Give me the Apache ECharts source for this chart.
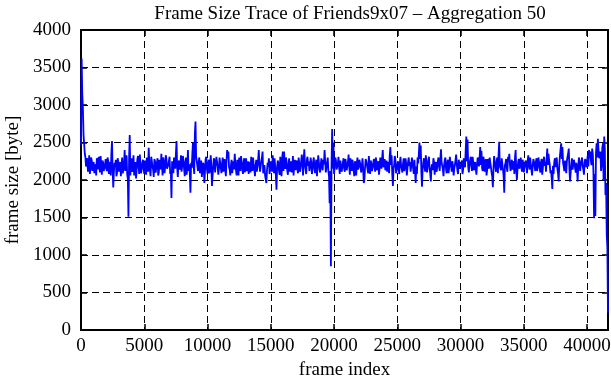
<!DOCTYPE html>
<html>
<head>
<meta charset="utf-8">
<script src="https://cdn.jsdelivr.net/npm/echarts@6/dist/echarts.min.js"></script>
<style>
  html, body { margin: 0; padding: 0; background: #fff; }
  #main { width: 611px; height: 380px; }
</style>
</head>
<body>
<div id="main"></div>
<script>
// aggregated frame sizes, one value per 50-frame window (one row = 1000 frames)
var firstFrame = 0;
var frameStep = 50;
var frameSize = [
  2470, 3620, 3150, 2960, 2600, 2480, 2350, 2300, 2180, 2240, 2290, 2110, 2200, 2330, 2080, 2150, 2300, 2260, 2120, 2190,
  2240, 2090, 2170, 2210, 2060, 2290, 2230, 2140, 2310, 2180, 2100, 2320, 2190, 2070, 2260, 2230, 2120, 2160, 2210, 2280,
  2150, 2120, 2300, 2250, 2080, 2190, 2240, 2060, 2350, 2520, 2140, 1900, 2110, 2230, 2180, 2270, 2050, 2100, 2290, 2230,
  2110, 2180, 2240, 2050, 2160, 2300, 2090, 2140, 2210, 2400, 2120, 2250, 2330, 2080, 2020, 1510, 2280, 2600, 2060, 2200,
  2290, 2110, 2170, 2330, 2060, 2160, 2240, 2020, 2130, 2270, 2320, 2190, 2080, 2340, 2200, 2090, 2150, 2230, 2270, 2150,
  2080, 2260, 2190, 2070, 2300, 2200, 2110, 2430, 2230, 2120, 2050, 2310, 2250, 2180, 2140, 2040, 2280, 2250, 2100, 2160,
  2230, 2290, 2060, 2100, 2270, 2210, 2140, 2350, 2190, 2060, 2300, 2240, 2090, 2170, 2330, 2280, 2150, 2130, 2200, 2220,
  2310, 2080, 2120, 1760, 2250, 2190, 2090, 2300, 2220, 2150, 2350, 2520, 2170, 2040, 2200, 2260, 2140, 2180, 2330, 2110,
  2190, 2320, 2260, 2140, 2050, 2230, 2300, 2070, 2160, 2400, 2120, 2210, 2090, 1830, 2230, 2160, 2350, 2500, 2180, 2080,
  2620, 2780, 2310, 2250, 2180, 2120, 2240, 2300, 2090, 2170, 2260, 2040, 2130, 2230, 2200, 1960, 2120, 2280, 2310, 2150,
  2080, 2210, 2270, 2090, 2150, 2330, 2200, 1920, 2050, 2180, 2290, 2260, 2100, 2120, 2310, 2240, 2190, 2070, 2140, 2300,
  2230, 2160, 2090, 2220, 2300, 2110, 2180, 2280, 2130, 2050, 2250, 2400, 2290, 2380, 2170, 2140, 2060, 2200, 2270, 2090,
  2180, 2250, 2140, 2350, 2220, 2130, 2060, 2270, 2190, 2060, 2300, 2190, 2120, 2320, 2240, 2150, 2080, 2230, 2290, 2100,
  2210, 2290, 2120, 2170, 2250, 2080, 2190, 2240, 2100, 2310, 2230, 2120, 2300, 2200, 2140, 2050, 2190, 2270, 2110, 2180,
  2270, 2400, 2210, 2110, 2180, 2250, 2300, 2380, 2090, 2150, 2200, 2060, 2010, 1960, 2130, 2230, 2200, 2290, 2080, 2140,
  2250, 2200, 2110, 2330, 2240, 2090, 2290, 2170, 2060, 1870, 2180, 2260, 2230, 2120, 2070, 2310, 2170, 2050, 2290, 2380,
  2120, 2380, 2210, 2150, 2300, 2240, 2130, 2070, 2200, 2290, 2110, 2180, 2250, 2100, 2170, 2320, 2060, 2200, 2270, 2130,
  2220, 2260, 2150, 2090, 2300, 2230, 2110, 2170, 2250, 2340, 2190, 2060, 2280, 2410, 2200, 2140, 2080, 2270, 2310, 2190,
  2250, 2120, 2180, 2300, 2230, 2080, 2140, 2250, 2300, 2160, 2090, 2220, 2270, 2050, 2190, 2330, 2240, 2140, 2100, 2210,
  2290, 2180, 2130, 2270, 2210, 2400, 2250, 2100, 2170, 2230, 2300, 2120, 2050, 1690, 2120, 850, 2200, 2680, 2150, 2500,
  2080, 2190, 2300, 2260, 2140, 2130, 2220, 2310, 2170, 2080, 2260, 2240, 2110, 2170, 2230, 2290, 2150, 2110, 2280, 2220,
  2130, 2150, 2240, 2340, 2180, 2070, 2290, 2200, 2120, 2270, 2210, 2120, 2050, 2250, 2190, 2060, 2230, 2300, 2140, 2180,
  2270, 2230, 2160, 2100, 2200, 2290, 2150, 1960, 2010, 2170, 2280, 2250, 2200, 2140, 2090, 2320, 2190, 2080, 2260, 2210,
  2120, 2160, 2230, 2280, 2180, 2110, 2300, 2240, 2130, 2190, 2250, 2070, 2160, 2300, 2220, 2150, 2290, 2400, 2170, 2220,
  2280, 2130, 2190, 2260, 2110, 2180, 2240, 2090, 2330, 2440, 2200, 2330, 2080, 1920, 2150, 2200, 2320, 2270, 2090, 2140,
  2200, 2250, 2140, 2080, 2230, 2310, 2190, 2170, 2100, 2220, 2290, 2120, 2180, 2290, 2220, 2060, 2150, 2240, 2300, 2190,
  2240, 2110, 2190, 2300, 2230, 2150, 2080, 2270, 2120, 1960, 2180, 2080, 2300, 2220, 2350, 2500, 2280, 2460, 2100, 1910,
  2140, 2230, 2290, 2180, 2110, 2330, 2240, 2100, 2190, 2260, 2310, 2150, 2090, 1980, 2170, 2210, 2130, 2290, 2240, 2070,
  2180, 2240, 2110, 2160, 2250, 2300, 2190, 2120, 2280, 2410, 2230, 2190, 2140, 2050, 2200, 2270, 2300, 2140, 2090, 2230,
  2270, 2090, 2170, 2310, 2240, 2180, 2110, 2250, 2190, 2060, 2150, 2200, 2270, 2340, 2200, 2130, 2080, 2270, 2220, 2150,
  2190, 2220, 2260, 2080, 2140, 2290, 2230, 2170, 2380, 2580, 2250, 2540, 2180, 2100, 2200, 2260, 2310, 2190, 2120, 2310,
  2240, 2130, 2190, 2240, 2150, 2070, 2210, 2300, 2250, 2180, 2290, 2440, 2200, 2390, 2160, 2120, 2310, 2260, 2110, 2200,
  2280, 2060, 2130, 2280, 2220, 2150, 2300, 2230, 2170, 2100, 2050, 1905, 2160, 2320, 2240, 2170, 2110, 2250, 2300, 2090,
  2330, 2510, 2180, 2200, 2130, 2290, 2220, 2140, 2050, 1830, 2190, 2230, 2280, 2160, 2110, 2310, 2240, 2350, 2200, 2120,
  2210, 2270, 2140, 2190, 2250, 2080, 2300, 2400, 2130, 2000, 2150, 2240, 2280, 2150, 2210, 2300, 2190, 2110, 2270, 2220,
  2100, 2170, 2230, 2260, 2180, 2090, 2250, 2330, 2200, 2140, 2300, 2210, 2130, 2060, 2190, 2280, 2240, 2180, 2120, 2240,
  2290, 2120, 2180, 2300, 2240, 2160, 2100, 2230, 2280, 2070, 2150, 2270, 2310, 2190, 2240, 2110, 2280, 2420, 2200, 2350,
  2260, 2200, 2090, 2130, 2020, 1880, 2190, 2080, 2230, 2290, 2170, 2240, 2300, 2150, 2090, 1980, 2200, 2320, 2410, 2490,
  2280, 2440, 2230, 2180, 2120, 2260, 2190, 2090, 2250, 2310, 2350, 2420, 2150, 1980, 2100, 2210, 2290, 2140, 2200, 2270,
  2230, 2160, 2100, 2230, 2140, 1980, 2180, 2300, 2240, 2120, 2200, 2250, 2300, 2190, 2140, 2070, 2230, 2280, 2210, 2170,
  2260, 2330, 2180, 2400, 2290, 2380, 2250, 2200, 2420, 2350, 2100, 1490, 2080, 1520, 2360, 2490, 2300, 2550, 2410, 2290,
  2340, 2380, 2120, 2200, 2430, 2480, 2010, 2580, 2420, 1800, 1960, 1270, 1100, 230
];
var xMax = 41650;
var yTicks = [0, 500, 1000, 1500, 2000, 2500, 3000, 3500, 4000];

var points = frameSize.map(function (v, i) {
  return [firstFrame + i * frameStep, v];
});

var font = '"Liberation Serif", "DejaVu Serif", serif';
var dashed = { show: true, lineStyle: { color: '#000', type: [7, 4], width: 1 } };
var frameLine = { show: true, onZero: false, lineStyle: { color: '#000', width: 2 } };
var tickIn = { show: true, inside: true, length: 6, lineStyle: { color: '#000', width: 1.5 } };

var myChart = echarts.init(document.getElementById('main'));
var option = {
  animation: false,
  title: {
    text: 'Frame Size Trace of Friends9x07 \u2013 Aggregation 50',
    left: 345,
    top: 0,
    textAlign: 'center',
    textStyle: { fontFamily: font, fontSize: 19, fontWeight: 'normal', color: '#000' }
  },
  grid: { left: 81, right: 3, top: 30, bottom: 50, outerBoundsMode: 'none' },
  xAxis: [
    {
      type: 'value',
      min: 0,
      max: xMax,
      interval: 5000,
      name: 'frame index',
      nameLocation: 'middle',
      nameGap: 27,
      nameTextStyle: { fontFamily: font, fontSize: 19, color: '#000' },
      axisLine: frameLine,
      axisTick: tickIn,
      axisLabel: {
        showMaxLabel: false,
        margin: 7,
        fontFamily: font, fontSize: 19, color: '#000',
        formatter: function (v) { return String(v); }
      },
      splitLine: dashed
    },
    {
      type: 'value',
      position: 'top',
      min: 0,
      max: xMax,
      interval: 5000,
      axisLine: frameLine,
      axisTick: tickIn,
      axisLabel: { show: false },
      splitLine: { show: false }
    }
  ],
  yAxis: [
    {
      type: 'value',
      min: yTicks[0],
      max: yTicks[yTicks.length - 1],
      interval: 500,
      name: 'frame size [byte]',
      nameLocation: 'middle',
      nameGap: 57,
      nameRotate: 90,
      nameTextStyle: { fontFamily: font, fontSize: 19, color: '#000' },
      axisLine: frameLine,
      axisTick: tickIn,
      axisLabel: {
        margin: 10,
        fontFamily: font, fontSize: 19, color: '#000',
        formatter: function (v) { return String(v); }
      },
      splitLine: dashed
    },
    {
      type: 'value',
      position: 'right',
      min: yTicks[0],
      max: yTicks[yTicks.length - 1],
      interval: 500,
      axisLine: frameLine,
      axisTick: tickIn,
      axisLabel: { show: false },
      splitLine: { show: false }
    }
  ],
  series: [
    {
      name: 'frame size',
      type: 'line',
      xAxisIndex: 0,
      yAxisIndex: 0,
      data: points,
      showSymbol: false,
      symbol: 'none',
      lineStyle: { color: '#0000ff', width: 1.8 },
      z: 5
    }
  ]
};
myChart.setOption(option);
</script>
</body>
</html>
